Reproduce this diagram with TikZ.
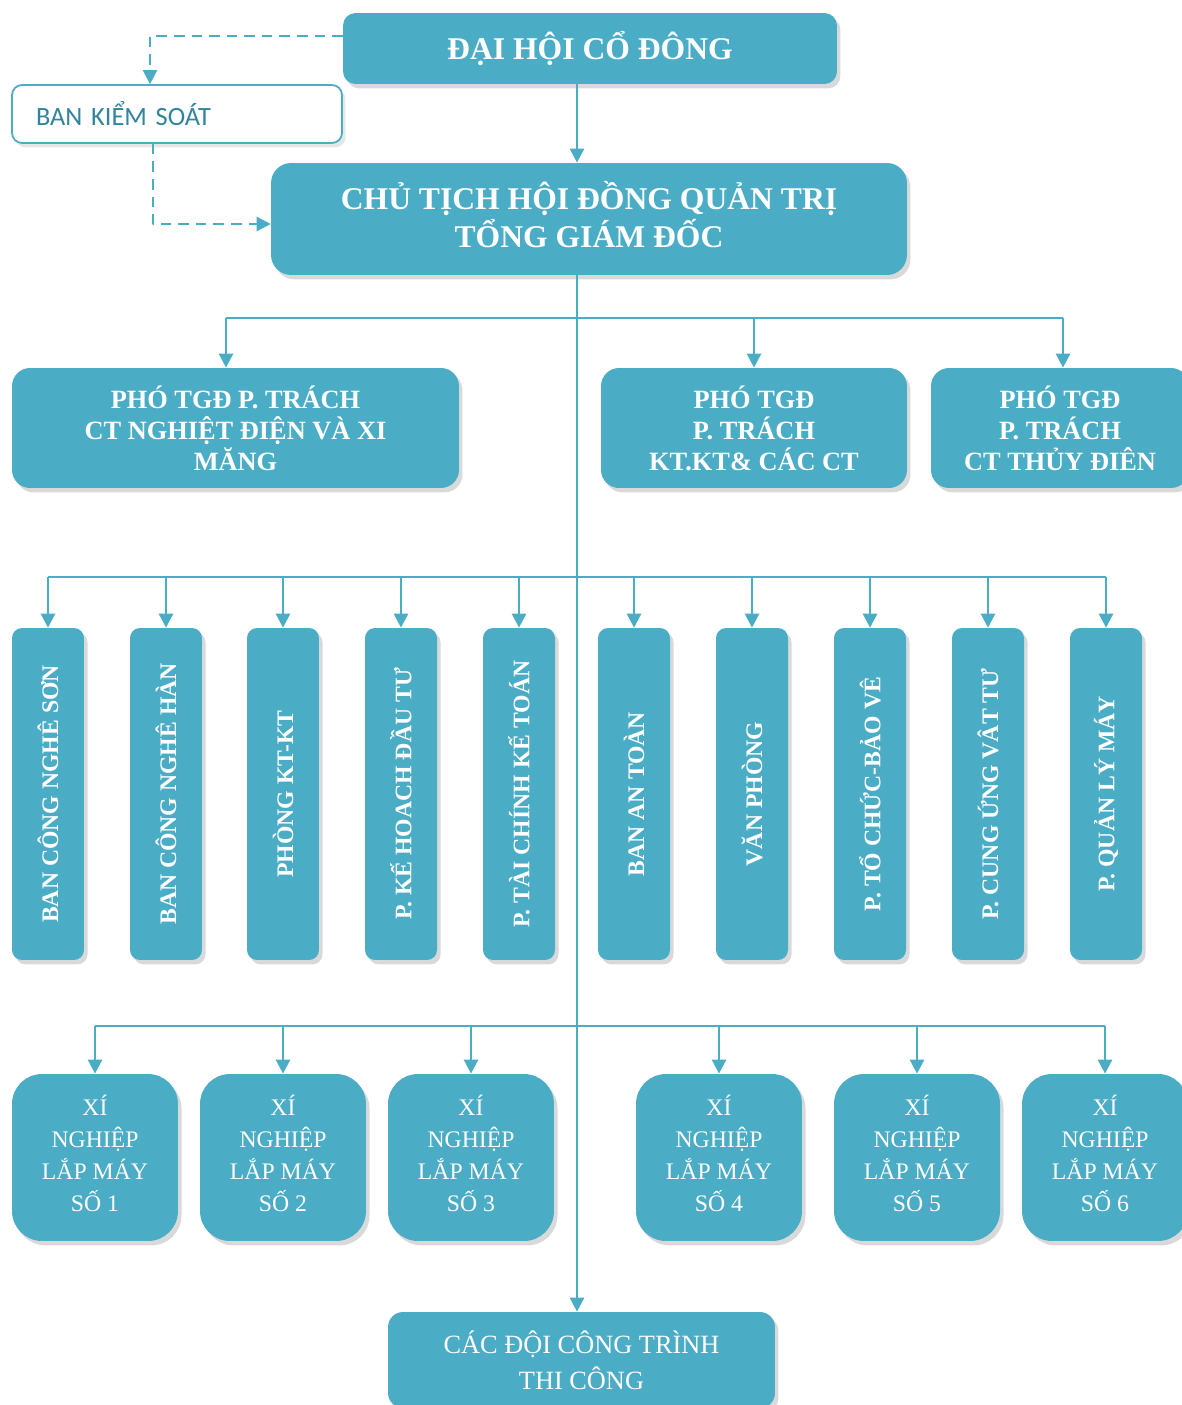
\documentclass[tikz,border=0pt]{standalone}
\usepackage{fontspec}
\usepackage{graphicx}
\setmainfont{Liberation Serif}
\newfontfamily\ksfont{Carlito}
\usetikzlibrary{arrows.meta,shadows}
\definecolor{xanh}{RGB}{75,172,198}
\definecolor{xanhdam}{RGB}{49,132,155}

\begin{document}
\begin{tikzpicture}[x=0.02cm,y=-0.02cm,>={Triangle[width=8pt,length=8pt]},line join=round,
	box/.style={fill=xanh,text=white,align=center,inner sep=2pt,
		drop shadow={shadow xshift=2pt,shadow yshift=-2.5pt,opacity=.3}},
	line/.style={xanh,line width=1.4pt},
	dline/.style={line,dash pattern=on 6pt off 4pt,->},
	big/.style={box,rounded corners=0.25cm,font=\fontsize{18}{21.6}\selectfont\bfseries},
	pgd/.style={box,minimum height=2.4cm,rounded corners=0.36cm,font=\fontsize{15}{17.6}\selectfont\bfseries},
	vbox/.style={box,minimum width=1.44cm,minimum height=6.64cm,rounded corners=0.2cm,font=\fontsize{13.5}{16}\selectfont\bfseries},
	xn/.style={box,minimum width=3.32cm,minimum height=3.34cm,rounded corners=0.6cm,font=\fontsize{13.5}{18.2}\selectfont}]
	\useasboundingbox (0,0) rectangle (1181,1405);
	\def\ya{318} \def\yb{577} \def\yc{1026}
	\coordinate (tr) at (577,0);
	\coordinate (b1) at (0,\ya);
	\coordinate (b2) at (0,\yb);
	\coordinate (b3) at (0,\yc);
	% top
	\node[big,minimum width=9.88cm,minimum height=1.42cm] (dh) at (590,48.5) {ĐẠI HỘI CỔ ĐÔNG};
	\node[draw=xanh,line width=1pt,fill=white,rounded corners=0.2cm,minimum height=1.16cm,text width=5.64cm,
		inner xsep=0.48cm,align=left,text=xanhdam,font=\ksfont\fontsize{15}{18}\selectfont,
		drop shadow={shadow xshift=2pt,shadow yshift=-2.5pt,opacity=.2}] (bks) at (177,114) {BAN KIỂM SOÁT};
	\node[big,minimum width=12.72cm,minimum height=2.24cm,rounded corners=0.4cm,text depth=0.2cm] (ct) at (589,219)
		{CHỦ TỊCH HỘI ĐỒNG QUẢN TRỊ\\TỔNG GIÁM ĐỐC};
	\draw[dline] ([yshift=0.25cm]dh.west) -| ([xshift=-0.54cm]bks.north);
	\draw[dline] ([xshift=-0.48cm]bks.south) |- ([yshift=-0.1cm]ct.west);
	\draw[line,->] (dh.south -| tr) -- (ct.north -| tr);
	% pho tgd
	\node[pgd,minimum width=8.94cm] (pg1) at (235.5,428) {PHÓ TGĐ P. TRÁCH\\CT NGHIỆT ĐIỆN VÀ XI\\MĂNG};
	\node[pgd,minimum width=6.12cm] (pg2) at (754,428) {PHÓ TGĐ\\P. TRÁCH\\KT.KT\& CÁC CT};
	\node[pgd,minimum width=5.16cm] (pg3) at (1060,428) {PHÓ TGĐ\\P. TRÁCH\\CT THỦY ĐIÊN};
	\coordinate (a1) at ([xshift=-0.19cm]pg1.north);
	\coordinate (a2) at (pg2.north);
	\coordinate (a3) at ([xshift=0.06cm]pg3.north);
	\draw[line] (a1 |- b1) -- (a3 |- b1);
	\foreach \i in {1,2,3} \draw[line,->] (a\i |- b1) -- (a\i);
	% phong ban
	\foreach \x/\t [count=\i] in {48/BAN CÔNG NGHÊ SƠN,166/BAN CÔNG NGHÊ HÀN,283/PHÒNG KT-KT,
		401/P. KẾ HOACH ĐẦU TƯ,519/P. TÀI CHÍNH KẾ TOÁN,634/BAN AN TOÀN,752/VĂN PHÒNG,
		870/P. TỔ CHỨC-BẢO VÊ,988/P. CUNG ỨNG VÂT TƯ,1106/P. QUẢN LÝ MÁY}
		\node[vbox] (d\i) at (\x,794) {\rotatebox{90}{\t}};
	\draw[line] (d1.north |- b2) -- (d10.north |- b2);
	\foreach \i in {1,...,10} \draw[line,->] (d\i.north |- b2) -- (d\i.north);
	% xi nghiep
	\foreach \x [count=\i] in {95,283,471,719,917,1105}
		\node[xn,text depth=0.16cm] (xn\i) at (\x,1157.5) {XÍ\\NGHIỆP\\LẮP MÁY\\SỐ \i};
	\draw[line] (xn1.north |- b3) -- (xn6.north |- b3);
	\foreach \i in {1,...,6} \draw[line,->] (xn\i.north |- b3) -- (xn\i.north);
	% doi cong trinh
	\node[box,minimum width=7.74cm,minimum height=1.92cm,rounded corners=0.3cm,
		font=\fontsize{15}{20.5}\selectfont] (cd) at (581.5,1360) {CÁC ĐỘI CÔNG TRÌNH\\THI CÔNG};
	\draw[line,->] (ct.south -| tr) -- (cd.north -| tr);
\end{tikzpicture}
\end{document}
